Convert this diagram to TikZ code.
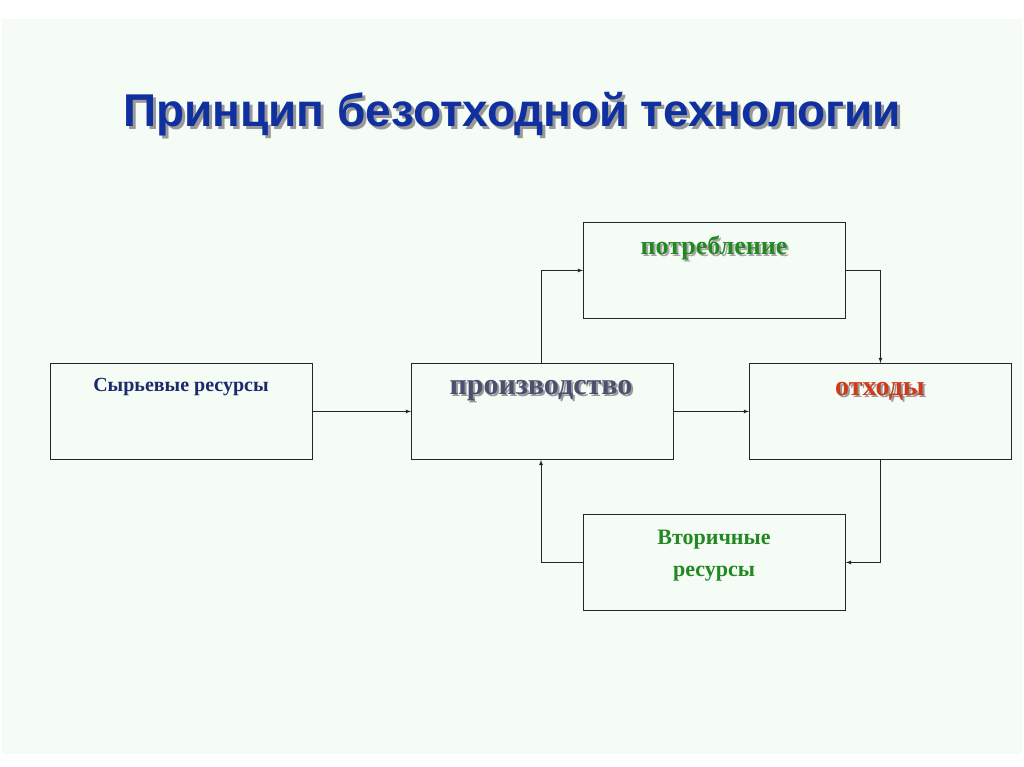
\documentclass[tikz,border=0pt]{standalone}
\usepackage{fontspec}
\setmainfont{Liberation Serif}
\newfontfamily\titlefont{Liberation Sans}
\begin{document}
\begin{tikzpicture}[x=1pt,y=-1pt,
  box/.style={draw=black!85,line width=0.9pt,minimum width=262pt,minimum height=96pt,anchor=north west,inner sep=0pt},
  lbl/.style={font=\bfseries},
  arr/.style={-latex,line width=0.8pt,black!85}]
\useasboundingbox (0,0) rectangle (1024,767);
\fill[white] (0,0) rectangle (1024,767);
\fill[cyan!8!green!4!white] (2,19) rectangle (1022,754);
\node[font=\titlefont\bfseries\fontsize{46}{50}\selectfont,text=black!40] (tsh) at (515,117) {Принцип безотходной технологии};
\node[font=\titlefont\bfseries\fontsize{46}{50}\selectfont,text={rgb,255:red,16;green,48;blue,160}] (title) at (512,114) {Принцип безотходной технологии};
\node[box] (raw) at (50,363) {};
\node[box] (prod) at (411,363) {};
\node[box] (waste) at (749,363) {};
\node[box] (cons) at (583,222) {};
\node[box] (sec) at (583,514) {};
\node[lbl,font=\bfseries\fontsize{20}{24}\selectfont,text={rgb,255:red,26;green,42;blue,106}] (tr) at (181,387) {Сырьевые ресурсы};
\node[lbl,font=\bfseries\fontsize{30}{34}\selectfont,text=black!40] at (543,393) {производство};
\node[lbl,font=\bfseries\fontsize{30}{34}\selectfont,text={rgb,255:red,74;green,80;blue,112}] (tp) at (541,391) {производство};
\node[lbl,font=\bfseries\fontsize{28}{32}\selectfont,text=black!40] at (882,393) {отходы};
\node[lbl,font=\bfseries\fontsize{28}{32}\selectfont,text={rgb,255:red,208;green,58;blue,26}] (tw) at (880,391) {отходы};
\node[lbl,font=\bfseries\fontsize{26}{30}\selectfont,text=black!35] at (716,250) {потребление};
\node[lbl,font=\bfseries\fontsize{26}{30}\selectfont,text={rgb,255:red,34;green,136;blue,34}] (tc) at (714,248) {потребление};
\node[lbl,align=center,font=\bfseries\fontsize{22}{32}\selectfont,text={rgb,255:red,34;green,136;blue,34}] (ts) at (714,556) {Вторичные\\ресурсы};
\draw[arr] (raw.east) -- (prod.west);
\draw[arr] (prod.east) -- (waste.west);
\draw[arr] (prod.north west) ++(130,0) coordinate (p1) |- (cons.west);
\draw[arr] (cons.east) -| (waste.north);
\draw[arr] (waste.south) |- (sec.east);
\draw[arr] (sec.west) -| (p1 |- prod.south);
\end{tikzpicture}
\end{document}
